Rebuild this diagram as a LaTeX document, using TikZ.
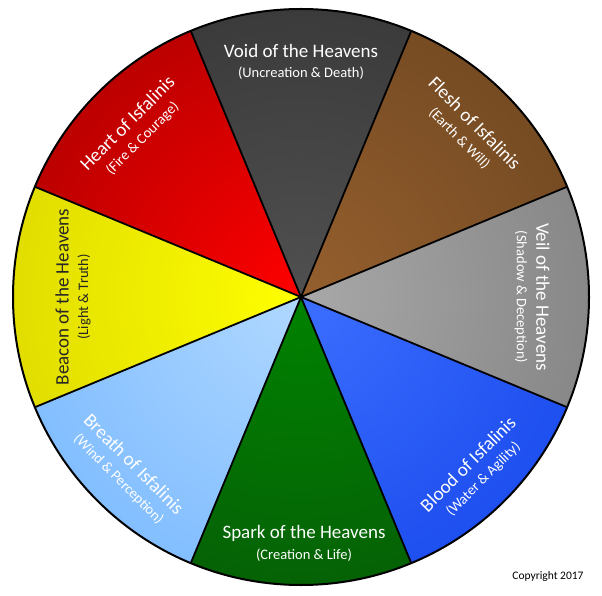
\documentclass[tikz,border=0pt]{standalone}
\usepackage{fontspec}
\setmainfont{Carlito}
\definecolor{voidC}{HTML}{505050}
\definecolor{voidR}{HTML}{262626}
\definecolor{fleshC}{HTML}{955F2E}
\definecolor{fleshR}{HTML}{583818}
\definecolor{veilC}{HTML}{A8A8A8}
\definecolor{veilR}{HTML}{686868}
\definecolor{bloodC}{HTML}{3C6EFF}
\definecolor{bloodR}{HTML}{0030E0}
\definecolor{sparkC}{HTML}{008200}
\definecolor{sparkR}{HTML}{0B420B}
\definecolor{breathC}{HTML}{B0D8FF}
\definecolor{breathR}{HTML}{55A4FF}
\definecolor{beaconC}{HTML}{FFFF00}
\definecolor{beaconR}{HTML}{C4BC00}
\definecolor{heartC}{HTML}{FF0000}
\definecolor{heartR}{HTML}{780000}
\pgfdeclareradialshading{shvoid}{\pgfpoint{0bp}{0bp}}{color(0bp)=(voidC); color(50bp)=(voidR); color(100bp)=(voidR)}
\pgfdeclareradialshading{shflesh}{\pgfpoint{0bp}{0bp}}{color(0bp)=(fleshC); color(50bp)=(fleshR); color(100bp)=(fleshR)}
\pgfdeclareradialshading{shveil}{\pgfpoint{0bp}{0bp}}{color(0bp)=(veilC); color(50bp)=(veilR); color(100bp)=(veilR)}
\pgfdeclareradialshading{shblood}{\pgfpoint{0bp}{0bp}}{color(0bp)=(bloodC); color(50bp)=(bloodR); color(100bp)=(bloodR)}
\pgfdeclareradialshading{shspark}{\pgfpoint{0bp}{0bp}}{color(0bp)=(sparkC); color(50bp)=(sparkR); color(100bp)=(sparkR)}
\pgfdeclareradialshading{shbreath}{\pgfpoint{0bp}{0bp}}{color(0bp)=(breathC); color(50bp)=(breathR); color(100bp)=(breathR)}
\pgfdeclareradialshading{shbeacon}{\pgfpoint{0bp}{0bp}}{color(0bp)=(beaconC); color(50bp)=(beaconR); color(100bp)=(beaconR)}
\pgfdeclareradialshading{shheart}{\pgfpoint{0bp}{0bp}}{color(0bp)=(heartC); color(50bp)=(heartR); color(100bp)=(heartR)}
\tikzset{
  maintext/.style={font=\fontsize{19}{21}\selectfont, inner sep=0pt},
  subtext/.style={font=\fontsize{14.5}{16}\selectfont, inner sep=0pt},
  divider/.style={line width=1.8pt, black},
  rim/.style={line width=2pt, black},
}
\begin{document}
\begin{tikzpicture}[x=1pt,y=1pt]
\useasboundingbox (0,0) rectangle (602,595);
\fill[white] (0,0) rectangle (602,595);
\coordinate (C) at (301,298);
\def\R{288}
% sectors
\foreach \ang/\sh in {90/shvoid,45/shflesh,0/shveil,-45/shblood,-90/shspark,-135/shbreath,180/shbeacon,135/shheart}{
  \begin{scope}
    \clip (C) -- ++(\ang-22.5:\R) arc[start angle=\ang-22.5, end angle=\ang+22.5, radius=\R] -- cycle;
    \shade[shading=\sh] (C) circle[radius=\R];
  \end{scope}
}
% dividers and rim
\foreach \ang in {22.5,67.5,112.5,157.5,202.5,247.5,292.5,337.5}{
  \draw[divider] (C) -- ++(\ang:\R);
}
\draw[rim] (C) circle[radius=\R];
% labels (outer sectors: main outside, sub inside)
\node[maintext, white] (voidm) at ([shift={(90:246)}]C) {Void of the Heavens};
\node[subtext, white] (voids) at ([shift={(90:224)}]C) {(Uncreation \& Death)};
\node[maintext, white, rotate=-45] (fleshm) at ([shift={(45:246)}]C) {Flesh of Isfalinis};
\node[subtext, white, rotate=-45] (fleshs) at ([shift={(45:224)}]C) {(Earth \& Will)};
\node[maintext, white, rotate=-90] (veilm) at ([shift={(0:246)}]C) [yshift=-4pt] {Veil of the Heavens};
\node[subtext, white, rotate=-90] (veils) at ([shift={(0:224)}]C) [yshift=-4pt] {(Shadow \& Deception)};
\node[maintext, black!85, rotate=90] (beaconm) at ([shift={(180:246)}]C) [yshift=-7pt] {Beacon of the Heavens};
\node[subtext, black!85, rotate=90] (beacons) at ([shift={(180:224)}]C) [yshift=-7pt] {(Light \& Truth)};
\node[maintext, white, rotate=45] (heartm) at ([shift={(135:246)}]C) {Heart of Isfalinis};
\node[subtext, white, rotate=45] (hearts) at ([shift={(135:224)}]C) {(Fire \& Courage)};
% labels (lower sectors: main inside, sub outside)
\node[maintext, white, rotate=45] (bloodm) at ([shift={(-45:236)}]C) {Blood of Isfalinis};
\node[subtext, white, rotate=45] (bloods) at ([shift={(-45:258)}]C) {(Water \& Agility)};
\node[maintext, white] (sparkm) at ([shift={(-90:236)}]C) [xshift=3pt] {Spark of the Heavens};
\node[subtext, white] (sparks) at ([shift={(-90:258)}]C) [xshift=3pt] {(Creation \& Life)};
\node[maintext, white, rotate=-45] (breathm) at ([shift={(-135:236)}]C) {Breath of Isfalinis};
\node[subtext, white, rotate=-45] (breaths) at ([shift={(-135:258)}]C) {(Wind \& Perception)};
% copyright
\node[font=\fontsize{11.5}{13}\selectfont, inner sep=0pt] (copy) at (548,19) {Copyright 2017};
\end{tikzpicture}
\end{document}
